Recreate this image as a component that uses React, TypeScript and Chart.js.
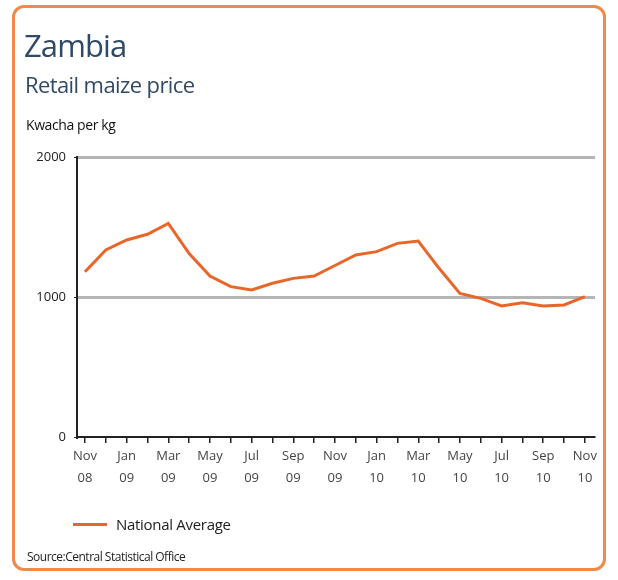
import React, { useEffect, useRef } from "react";
import { Chart, registerables } from "chart.js";

Chart.register(...registerables);

const months: string[] = [
  "Nov 08", "Dec 08", "Jan 09", "Feb 09", "Mar 09", "Apr 09", "May 09", "Jun 09", "Jul 09",
  "Aug 09", "Sep 09", "Oct 09", "Nov 09", "Dec 09", "Jan 10", "Feb 10", "Mar 10", "Apr 10",
  "May 10", "Jun 10", "Jul 10", "Aug 10", "Sep 10", "Oct 10", "Nov 10",
];
const nationalAverage: number[] = [
  1180, 1336, 1407, 1448, 1525, 1310, 1150, 1074, 1050, 1098, 1133, 1150, 1225,
  1300, 1324, 1383, 1400, 1205, 1026, 990, 936, 959, 936, 943, 1002,
];
const yTicks: number[] = [0, 1000, 2000];

const ORANGE = "#e8662a";
const TITLE_COLOR = "#2f4a68";
const FONT = "'Open Sans', 'Noto Sans', sans-serif";

export default function App() {
  const ref = useRef<HTMLCanvasElement | null>(null);

  useEffect(() => {
    if (!ref.current) return;
    const data = nationalAverage.map((v, i) => ({ x: i, y: v }));
    const chart = new Chart(ref.current, {
      type: "line",
      data: {
        datasets: [
          {
            label: "National Average",
            data,
            borderColor: ORANGE,
            backgroundColor: ORANGE,
            borderWidth: 3,
            pointRadius: 0,
            tension: 0,
          },
        ],
      },
      options: {
        animation: false,
        responsive: false,
        maintainAspectRatio: false,
        layout: { padding: { top: 157, right: 23, left: 0, bottom: 0 } },
        plugins: { legend: { display: false }, tooltip: { enabled: false } },
        scales: {
          x: {
            type: "linear",
            min: -0.384,
            max: 24.486,
            afterBuildTicks: (s: any) => {
              s.ticks = months.map((_, i) => ({ value: i }));
            },
            afterFit: (s: any) => {
              s.height = 143;
            },
            ticks: {
              autoSkip: false,
              maxRotation: 0,
              padding: 2,
              color: "#444",
              font: { family: FONT, size: 13, lineHeight: 1.7 },
              callback: (v: any) => {
                const i = Math.round(Number(v));
                if (i % 2 !== 0) return "";
                return months[i].split(" ");
              },
            },
            grid: {
              drawOnChartArea: false,
              tickLength: 6,
              color: "#222",
              lineWidth: 1.5,
            },
            border: { display: true, color: "#222", width: 2 },
          },
          y: {
            min: 0,
            max: 2000,
            afterBuildTicks: (s: any) => {
              s.ticks = yTicks.map((v) => ({ value: v }));
            },
            afterFit: (s: any) => {
              s.width = 77;
            },
            ticks: {
              color: "#222",
              padding: 8,
              font: { family: FONT, size: 13 },
              callback: (v: any) => String(v),
            },
            grid: {
              color: (c: any) => (c.tick && c.tick.value === 0 ? "rgba(0,0,0,0)" : "#b5b5b5"),
              lineWidth: 3,
              tickLength: 3,
              tickColor: "#222",
              tickWidth: 1,
            },
            border: { display: true, color: "#222", width: 2 },
          },
        },
      },
    });
    return () => chart.destroy();
  }, []);

  return (
    <div style={{ position: "fixed", left: 0, top: 0, width: 618, height: 580, background: "#fff", overflow: "hidden", fontFamily: FONT }}>
      <div
        style={{
          position: "absolute",
          left: 12,
          top: 5,
          width: 594,
          height: 566,
          border: `3px solid #ef8a4c`,
          borderRadius: 12,
          boxSizing: "border-box",
        }}
      />
      <canvas ref={ref} width={618} height={580} style={{ position: "absolute", left: 0, top: 0, width: 618, height: 580 }} />
      <div style={{ position: "absolute", left: 24, top: 27, fontSize: 31, lineHeight: "36px", color: TITLE_COLOR, letterSpacing: -0.9 }}>
        Zambia
      </div>
      <div style={{ position: "absolute", left: 25, top: 70, fontSize: 22, lineHeight: "28px", color: TITLE_COLOR, letterSpacing: -0.6 }}>
        Retail maize price
      </div>
      <div style={{ position: "absolute", left: 26, top: 115, fontSize: 14, lineHeight: "20px", color: "#111", letterSpacing: -0.4 }}>
        Kwacha per kg
      </div>
      <div style={{ position: "absolute", left: 73, top: 523, width: 34, height: 3, background: ORANGE }} />
      <div style={{ position: "absolute", left: 116, top: 513, fontSize: 15, lineHeight: "22px", color: "#222", letterSpacing: -0.3 }}>
        National Average
      </div>
      <div style={{ position: "absolute", left: 27, top: 549, fontSize: 12, lineHeight: "16px", color: "#222", letterSpacing: -0.5 }}>
        Source:Central Statistical Office
      </div>
    </div>
  );
}
